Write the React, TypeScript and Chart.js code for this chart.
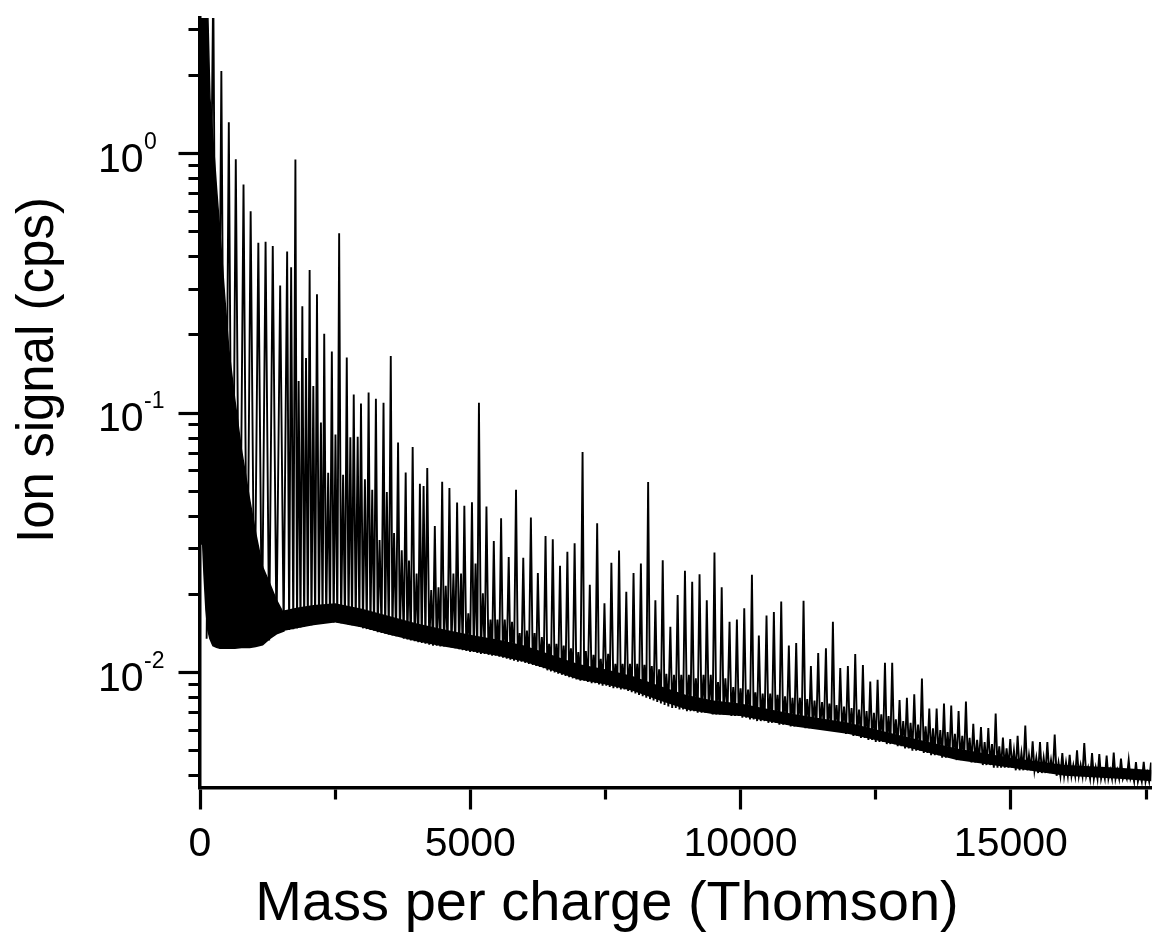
import React, { useEffect, useRef } from 'react';
import { Chart, registerables } from 'chart.js';

Chart.register(...registerables);

const FONT = "'Liberation Sans', Arial, Helvetica, sans-serif";

// ---- axis ranges & ticks ----
const X_MIN = 0;
const X_MAX = 17600;
const Y_MIN = 0.00359;
const Y_MAX = 3.33;
const xTickValues = [0, 2500, 5000, 7500, 10000, 12500, 15000, 17500];
const xTickLabels = ['0', '', '5000', '', '10000', '', '15000', ''];
const xMajorTicks = [0, 5000, 10000, 15000];
const yMajorTicks = [0.01, 0.1, 1];
const yMajorExponents = ['-2', '-1', '0'];
const yTickValues = [
  0.004, 0.005, 0.006, 0.007, 0.008, 0.009,
  0.01, 0.02, 0.03, 0.04, 0.05, 0.06, 0.07, 0.08, 0.09,
  0.1, 0.2, 0.3, 0.4, 0.5, 0.6, 0.7, 0.8, 0.9,
  1, 2, 3,
];
const xTitle = 'Mass per charge (Thomson)';
const yTitle = 'Ion signal (cps)';

// ---- low-mass dense region (filled envelope), mass in Th, signal in cps ----
const denseMass = [0, 50, 74, 110, 129, 147, 184, 239, 276, 307, 368, 460, 533, 643, 767, 919, 1029, 1158, 1287, 1415, 1563];
const denseTop = [5, 5, 5, 5, 5, 3.3, 1.63, 1.14, 0.899, 0.73, 0.5, 0.275, 0.176, 0.113, 0.0722, 0.0463, 0.0345, 0.0255, 0.0221, 0.019, 0.0166];
const denseBottom = [0.0316, 0.0311, 0.0239, 0.0174, 0.0158, 0.0145, 0.0135, 0.0127, 0.0126, 0.0125, 0.0124, 0.0124, 0.0124, 0.0124, 0.0125, 0.0125, 0.0126, 0.0128, 0.0135, 0.0141, 0.0145];

// ---- noise band (dark baseline ribbon) ----
const bandMass = [1415, 1563, 1800, 2100, 2500, 3000, 3500, 4000, 4500, 5000, 5500, 6000, 6500, 7000, 7500, 8000, 8500, 9000, 9500, 10000, 11000, 12000, 13000, 14000, 15000, 16000, 17000, 17700];
const bandLow = [0.0141, 0.0145, 0.0148, 0.0152, 0.0156, 0.0149, 0.014, 0.0132, 0.0126, 0.0121, 0.0116, 0.011, 0.0102, 0.0094, 0.009, 0.0085, 0.0078, 0.0072, 0.0069, 0.0068, 0.0062, 0.0058, 0.0052, 0.0046, 0.0043, 0.004, 0.0039, 0.0038];
const bandHigh = [0.0169, 0.0174, 0.0178, 0.0182, 0.0185, 0.0176, 0.0165, 0.0155, 0.0147, 0.014, 0.0134, 0.0127, 0.0117, 0.0108, 0.0103, 0.0097, 0.0089, 0.0082, 0.0078, 0.0076, 0.0069, 0.0064, 0.0057, 0.0051, 0.0047, 0.0044, 0.0043, 0.0042];

// ---- peaks (mass, top) ----
const peakMass = [
  245, 395, 533, 662, 805, 937, 1079, 1213, 1346, 1483,
  1612, 1686, 1765, 1825, 1893, 1961, 2028, 2096, 2164, 2237,
  2298, 2371, 2439, 2506, 2574, 2647, 2715, 2781, 2844, 2917,
  2978, 3051, 3119, 3186, 3254, 3322, 3395, 3456, 3529, 3590,
  3664, 3732, 3805, 3866, 3934, 4007, 4068, 4136, 4204, 4277,
  4344, 4412, 4480, 4546, 4614, 4688, 4756, 4829, 4890, 4963,
  5031, 5097, 5160, 5233, 5299, 5373, 5435, 5502, 5570, 5638,
  5711, 5772, 5846, 5914, 5980, 6048, 6121, 6189, 6250, 6324,
  6392, 6458, 6526, 6594, 6660, 6728, 6796, 6862, 6930, 6998,
  7077, 7138, 7211, 7279, 7347, 7414, 7482, 7550, 7610, 7684,
  7752, 7818, 7886, 7954, 8020, 8088, 8156, 8222, 8290, 8358,
  8424, 8493, 8560, 8627, 8701, 8768, 8836, 8903, 8971, 9044,
  9105, 9173, 9241, 9314, 9375, 9449, 9517, 9583, 9651, 9719,
  9796, 9864, 9932, 10000, 10068, 10139, 10210, 10274, 10338, 10409,
  10480, 10548, 10616, 10684, 10752, 10822, 10893, 10961, 11029, 11097,
  11165, 11233, 11301, 11368, 11436, 11507, 11579, 11643, 11708, 11776,
  11844, 11914, 11985, 12053, 12121, 12192, 12263, 12331, 12399, 12467,
  12535, 12603, 12671, 12738, 12805, 12873, 12941, 13009, 13077, 13145,
  13213, 13284, 13355, 13423, 13491, 13559, 13627, 13695, 13763, 13830,
  13897, 13965, 14033, 14101, 14169, 14237, 14305, 14376, 14447, 14515,
  14583, 14651, 14719, 14786, 14853, 14921, 14989, 15057, 15125, 15196,
  15267, 15335, 15403, 15471, 15539, 15607, 15675, 15743, 15811, 15882,
  15952, 16020, 16088, 16156, 16224, 16291, 16358, 16430, 16502, 16569,
  16636, 16704, 16772, 16838, 16903, 16970, 17037, 17108, 17180, 17247,
  17314, 17386, 17458, 17525, 17592,
];
const peakHeight = [
  4.5, 2.08, 1.32, 0.95, 0.76, 0.6, 0.453, 0.457, 0.44, 0.31,
  0.419, 0.365, 0.948, 0.133, 0.258, 0.163, 0.356, 0.127, 0.287, 0.092,
  0.202, 0.0589, 0.1725, 0.0826, 0.493, 0.0578, 0.1636, 0.0806, 0.118, 0.081,
  0.1088, 0.0556, 0.12, 0.0506, 0.1135, 0.0324, 0.1095, 0.0496, 0.166, 0.0345,
  0.077, 0.0296, 0.059, 0.027, 0.074, 0.0241, 0.0534, 0.0524, 0.0614, 0.0208,
  0.0367, 0.0213, 0.0543, 0.0216, 0.0514, 0.0241, 0.0452, 0.0241, 0.0439, 0.0169,
  0.0453, 0.0263, 0.1095, 0.0202, 0.0436, 0.016, 0.0321, 0.016, 0.0393, 0.016,
  0.0279, 0.0157, 0.0506, 0.0142, 0.0277, 0.0145, 0.0396, 0.0142, 0.0242, 0.0137,
  0.0336, 0.0129, 0.0326, 0.0129, 0.0258, 0.0127, 0.0292, 0.0124, 0.0315, 0.012,
  0.0708, 0.0121, 0.0218, 0.0117, 0.0376, 0.0113, 0.0185, 0.0118, 0.0265, 0.0108,
  0.0295, 0.0108, 0.0205, 0.0108, 0.0242, 0.0108, 0.0263, 0.0107, 0.0542, 0.0106,
  0.019, 0.0103, 0.0271, 0.0099, 0.015, 0.0098, 0.0199, 0.0098, 0.0247, 0.0098,
  0.0224, 0.0095, 0.0239, 0.0098, 0.019, 0.0098, 0.029, 0.0092, 0.0213, 0.0095,
  0.0157, 0.0088, 0.016, 0.0087, 0.0177, 0.0086, 0.0238, 0.0084, 0.0139, 0.0083,
  0.0166, 0.0083, 0.0171, 0.0082, 0.0188, 0.0081, 0.0127, 0.008, 0.013, 0.008,
  0.0189, 0.0079, 0.0106, 0.0078, 0.0119, 0.0077, 0.0124, 0.0076, 0.0157, 0.0075,
  0.0104, 0.0074, 0.0106, 0.0073, 0.0118, 0.0072, 0.0107, 0.0071, 0.00924, 0.007,
  0.00938, 0.0069, 0.0109, 0.0068, 0.0109, 0.0066, 0.00784, 0.0065, 0.008, 0.0064,
  0.00824, 0.0063, 0.00949, 0.0062, 0.00726, 0.0061, 0.00726, 0.006, 0.0076, 0.0059,
  0.00747, 0.0058, 0.0071, 0.0057, 0.00773, 0.0056, 0.00634, 0.0055, 0.00617, 0.0054,
  0.00611, 0.0053, 0.00695, 0.0052, 0.00562, 0.0051, 0.00554, 0.005, 0.0057, 0.0049,
  0.00625, 0.0048, 0.00543, 0.0047, 0.0054, 0.0047, 0.0054, 0.0046, 0.00577, 0.0045,
  0.00489, 0.0045, 0.00482, 0.0044, 0.00501, 0.0044, 0.00535, 0.0043, 0.00489, 0.0043,
  0.00485, 0.0042, 0.00479, 0.0042, 0.00492, 0.0042, 0.00466, 0.0041, 0.0046, 0.0041,
  0.00452, 0.0041, 0.00453, 0.0041, 0.0045,
];
// baseline minimum before each peak (last entry: after the final peak)
const valleyHeight = [
  0.0135, 0.0125, 0.0124, 0.0124, 0.0125, 0.0125, 0.0126, 0.0128, 0.0133, 0.0141,
  0.0145, 0.0146, 0.0147, 0.0148, 0.0149, 0.015, 0.0151, 0.0152, 0.0153, 0.0154,
  0.0155, 0.0156, 0.0157, 0.0156, 0.0156, 0.0155, 0.0154, 0.0153, 0.0152, 0.0151,
  0.015, 0.0148, 0.0147, 0.0146, 0.0145, 0.0143, 0.0142, 0.0141, 0.014, 0.0139,
  0.0138, 0.0137, 0.0135, 0.0134, 0.0133, 0.0132, 0.0131, 0.013, 0.0129, 0.0128,
  0.0127, 0.0127, 0.0126, 0.0126, 0.0126, 0.0125, 0.0124, 0.0123, 0.0122, 0.0121,
  0.012, 0.012, 0.0119, 0.0118, 0.0118, 0.0117, 0.0116, 0.0116, 0.0115, 0.0114,
  0.0113, 0.0112, 0.0111, 0.011, 0.011, 0.0109, 0.0108, 0.0107, 0.0106, 0.0105,
  0.0104, 0.0102, 0.0101, 0.01, 0.0099, 0.0098, 0.0097, 0.0096, 0.0095, 0.0094,
  0.0093, 0.0093, 0.0092, 0.0091, 0.0091, 0.009, 0.0089, 0.0089, 0.0088, 0.0087,
  0.0087, 0.0086, 0.0086, 0.0085, 0.0084, 0.0083, 0.0082, 0.0081, 0.008, 0.0079,
  0.0078, 0.0077, 0.0076, 0.0075, 0.0074, 0.0073, 0.0073, 0.0072, 0.0072, 0.0071,
  0.0071, 0.0071, 0.007, 0.007, 0.007, 0.007, 0.0069, 0.0069, 0.0069, 0.0069,
  0.0069, 0.0068, 0.0068, 0.0068, 0.0067, 0.0067, 0.0066, 0.0066, 0.0065, 0.0065,
  0.0065, 0.0064, 0.0064, 0.0064, 0.0063, 0.0063, 0.0063, 0.0062, 0.0062, 0.0062,
  0.0062, 0.0061, 0.0061, 0.0061, 0.0061, 0.0061, 0.0061, 0.0061, 0.006, 0.006,
  0.0059, 0.0059, 0.0058, 0.0058, 0.0057, 0.0057, 0.0056, 0.0056, 0.0055, 0.0055,
  0.0054, 0.0054, 0.0054, 0.0053, 0.0053, 0.0053, 0.0052, 0.0052, 0.0051, 0.0051,
  0.005, 0.005, 0.005, 0.0049, 0.0049, 0.0048, 0.0048, 0.0048, 0.0047, 0.0047,
  0.0047, 0.0047, 0.0046, 0.0046, 0.0046, 0.0046, 0.0045, 0.0045, 0.0045, 0.0044,
  0.0044, 0.0044, 0.0043, 0.0043, 0.0043, 0.0043, 0.0043, 0.0043, 0.0042, 0.0042,
  0.0042, 0.0042, 0.0042, 0.0042, 0.0041, 0.0041, 0.0041, 0.0041, 0.0041, 0.004,
  0.004, 0.004, 0.004, 0.004, 0.004, 0.004, 0.004, 0.004, 0.0039, 0.0039,
  0.0039, 0.0039, 0.0039, 0.0039, 0.0039, 0.0039, 0.0039, 0.0039, 0.0039, 0.0039,
  0.0038, 0.0038, 0.0038, 0.0038, 0.0038, 0.0038,
];

function buildSpectrum() {
  const pts: { x: number; y: number }[] = [];
  const n = Math.min(peakMass.length, peakHeight.length, valleyHeight.length - 1);
  for (let i = 0; i < n; i++) {
    const prev = i === 0 ? denseMass[0] : peakMass[i - 1];
    pts.push({ x: (prev + peakMass[i]) / 2, y: valleyHeight[i] });
    pts.push({ x: peakMass[i], y: peakHeight[i] });
  }
  const last = peakMass[n - 1];
  pts.push({ x: last + (last - peakMass[n - 2]) / 2, y: valleyHeight[n] });
  return pts;
}

const textPlugin = {
  id: 'axisTexts',
  afterDraw(chart: any) {
    const ctx = chart.ctx as CanvasRenderingContext2D;
    const ys = chart.scales.y;
    ctx.save();
    ctx.fillStyle = '#000';
    ctx.textBaseline = 'alphabetic';
    yMajorTicks.forEach((v, i) => {
      const py = ys.getPixelForValue(v);
      ctx.font = `41px ${FONT}`;
      ctx.textAlign = 'right';
      ctx.fillText('10', 143.5, py + 18);
      ctx.font = `23px ${FONT}`;
      ctx.textAlign = 'left';
      ctx.fillText(yMajorExponents[i], 144, py - 5);
    });
    // x-axis title
    ctx.font = `56px ${FONT}`;
    ctx.textAlign = 'center';
    ctx.fillText(xTitle, 607, 920);
    // y-axis title
    ctx.translate(53, 370);
    ctx.rotate(-Math.PI / 2);
    ctx.font = `51px ${FONT}`;
    ctx.textAlign = 'center';
    ctx.fillText(yTitle, 0, 0);
    ctx.restore();
  },
};

export default function App() {
  const ref = useRef<HTMLCanvasElement | null>(null);
  useEffect(() => {
    if (!ref.current) return;
    const toPts = (xs: number[], ys: number[]) => xs.map((m, i) => ({ x: m, y: ys[i] }));
    const line = { borderColor: '#000', pointRadius: 0, tension: 0 };
    const chart = new Chart(ref.current, {
      type: 'line',
      data: {
        datasets: [
          { ...line, label: 'envelope top', data: toPts(denseMass, denseTop), backgroundColor: '#000', borderWidth: 1.5, fill: '+1' },
          { ...line, label: 'envelope bottom', data: toPts(denseMass, denseBottom), borderWidth: 1.5, fill: false },
          { ...line, label: 'band top', data: toPts(bandMass, bandHigh), backgroundColor: '#000', borderWidth: 0, fill: '+1' },
          { ...line, label: 'band bottom', data: toPts(bandMass, bandLow), borderWidth: 0, fill: false },
          { ...line, label: 'spectrum', data: buildSpectrum(), borderWidth: 1.9, fill: false },
        ],
      },
      options: {
        animation: false,
        responsive: false,
        events: [],
        layout: { padding: { top: 18, left: 0, right: 0, bottom: 0 } },
        plugins: {
          legend: { display: false },
          tooltip: { enabled: false },
          title: { display: false },
        },
        scales: {
          x: {
            type: 'linear',
            min: X_MIN,
            max: X_MAX,
            afterBuildTicks: (s: any) => {
              s.ticks = xTickValues.map((v) => ({ value: v, major: xMajorTicks.includes(v) }));
            },
            afterFit: (s: any) => {
              s.height = 160;
            },
            border: { display: true, color: '#000', width: 3.5 },
            grid: {
              drawOnChartArea: false,
              drawTicks: true,
              tickLength: 21.5,
              tickWidth: 3.2,
              tickColor: '#000',
              tickBorderDash: (c: any) => (c.tick && xMajorTicks.includes(c.tick.value) ? [] : [10, 100]),
            } as any,
            ticks: {
              autoSkip: false,
              maxRotation: 0,
              minRotation: 0,
              padding: 11,
              color: '#000',
              font: { family: FONT, size: 41 },
              callback: (v: any) => {
                const i = xTickValues.indexOf(Number(v));
                return i >= 0 ? xTickLabels[i] : '';
              },
            },
          },
          y: {
            type: 'logarithmic',
            min: Y_MIN,
            max: Y_MAX,
            afterBuildTicks: (s: any) => {
              s.ticks = yTickValues.map((v) => ({ value: v, major: yMajorTicks.includes(v) }));
            },
            afterFit: (s: any) => {
              s.width = 200;
            },
            border: { display: true, color: '#000', width: 3.5 },
            grid: {
              drawOnChartArea: false,
              drawTicks: true,
              tickLength: 21.5,
              tickWidth: 3.2,
              tickColor: '#000',
              tickBorderDash: (c: any) => (c.tick && yMajorTicks.includes(c.tick.value) ? [] : [0, 10, 10, 100]),
            } as any,
            ticks: { display: false },
          },
        },
      },
      plugins: [textPlugin],
    } as any);
    return () => chart.destroy();
  }, []);
  return (
    <div style={{ position: 'fixed', left: 0, top: 0, width: 1157, height: 948, background: '#fff' }}>
      <canvas ref={ref} width={1157} height={948} style={{ display: 'block' }} />
    </div>
  );
}
